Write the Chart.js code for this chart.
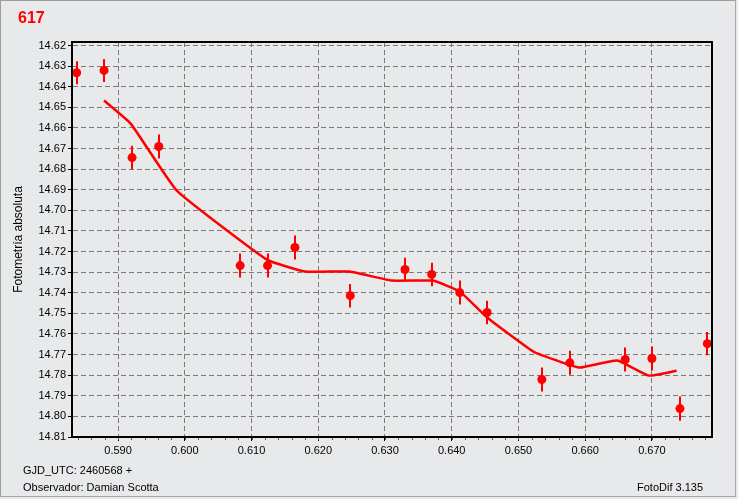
<!DOCTYPE html>
<html>
<head>
<meta charset="utf-8">
<script src="https://cdn.jsdelivr.net/npm/chart.js@4"></script>
<style>
  html, body { margin: 0; padding: 0; background: #fff; }
  #wrap { position: relative; width: 738px; height: 499px; background: #e8e9eb; overflow: hidden; }
  #frame { position: absolute; left: 0; top: 0; width: 734px; height: 495px; border: 1px solid #9d9d9d; border-right-color: #a8a8a8; border-bottom-color: #a8a8a8; }
  canvas { position: absolute; left: 0; top: 0; }
  .txt { position: absolute; font-family: "Liberation Sans", Arial, sans-serif; font-size: 11px; color: #000; white-space: nowrap; }
  #title { left: 18px; top: 9px; font-size: 16px; font-weight: bold; color: #ff0000; }
</style>
</head>
<body>
<div id="wrap">
  <div id="frame"></div>
  <canvas id="myChart" width="738" height="499"></canvas>
  <div id="title" class="txt">617</div>
  <div class="txt" style="left:23px; top:464px;">GJD_UTC: 2460568 +</div>
  <div class="txt" style="left:23px; top:481px;">Observador: Damian Scotta</div>
  <div class="txt" style="left:637px; top:481px;">FotoDif 3.135</div>
</div>
<script>
// mediciones (GJD - 2460568)
var tiempos = [0.5838, 0.5879, 0.5921, 0.5961, 0.6083, 0.6124, 0.6165, 0.6248, 0.6330,
               0.6370, 0.6412, 0.6453, 0.6535, 0.6577, 0.6660, 0.6700, 0.6742, 0.6783];
var magnitudes = [14.6332, 14.6321, 14.6744, 14.6690, 14.7268, 14.7268, 14.7180, 14.7414, 14.7287,
                  14.7311, 14.7399, 14.7496, 14.7821, 14.7740, 14.7724, 14.7719, 14.7962, 14.7647];
var errores = [0.0056, 0.0056, 0.0058, 0.0058, 0.0058, 0.0058, 0.0058, 0.0057, 0.0057,
               0.0057, 0.0058, 0.0057, 0.0058, 0.0058, 0.0058, 0.0058, 0.0059, 0.0056];

// curva de ajuste
var ajusteX = [0.5879, 0.5919, 0.5988, 0.6123, 0.6180, 0.6247, 0.6310, 0.6372, 0.6412,
               0.6453, 0.6522, 0.6562, 0.6592, 0.6648, 0.6695, 0.6737];
var ajusteY = [14.6467, 14.6579, 14.6904, 14.7239, 14.7297, 14.7297, 14.7341, 14.7341, 14.7394,
               14.7520, 14.7685, 14.7734, 14.7763, 14.7729, 14.7802, 14.7778];

var ejeX = { min: 0.5831, max: 0.6790, paso: 0.01, pasoMenor: 0.002 };
var ejeY = { min: 14.6183, max: 14.81, paso: 0.01 };

var puntos = tiempos.map(function(t, i){ return {x: t, y: magnitudes[i]}; });
var curva = ajusteX.map(function(t, i){ return {x: t, y: ajusteY[i]}; });

// barras de error y marco del grafico
var extras = {
    id: 'extras',
    beforeDatasetsDraw: function(chart){
        var ctx = chart.ctx, sx = chart.scales.x, sy = chart.scales.y;
        ctx.save();
        ctx.strokeStyle = '#ff0000';
        ctx.lineWidth = 2;
        for (var i = 0; i < tiempos.length; i++) {
            var px = Math.round(sx.getPixelForValue(tiempos[i]));
            ctx.beginPath();
            ctx.moveTo(px, sy.getPixelForValue(magnitudes[i] - errores[i]));
            ctx.lineTo(px, sy.getPixelForValue(magnitudes[i] + errores[i]));
            ctx.stroke();
        }
        ctx.restore();
    },
    afterDraw: function(chart){
        var ctx = chart.ctx, a = chart.chartArea, sx = chart.scales.x;
        ctx.save();
        ctx.strokeStyle = '#000';
        ctx.lineWidth = 2;
        ctx.strokeRect(a.left, a.top, a.right - a.left, a.bottom - a.top);
        // marcas menores del eje X
        ctx.lineWidth = 1;
        ctx.strokeStyle = '#555';
        ctx.beginPath();
        var k0 = Math.ceil(ejeX.min / ejeX.pasoMenor), k1 = Math.floor(ejeX.max / ejeX.pasoMenor);
        for (var k = k0; k <= k1; k++) {
            var px = Math.round(sx.getPixelForValue(k * ejeX.pasoMenor)) + 0.5;
            ctx.moveTo(px, a.bottom + 1);
            ctx.lineTo(px, a.bottom + 3);
        }
        ctx.stroke();
        ctx.restore();
    }
};

var fuente = { family: '"Liberation Sans", Arial, sans-serif', size: 11 };

var chartData = {
    type: 'scatter',
    data: {
        datasets: [{
            label: 'ajuste',
            type: 'line',
            data: curva,
            borderColor: '#ff0000',
            borderWidth: 2.5,
            pointRadius: 0,
            tension: 0.12,
            fill: false
        }, {
            label: 'mediciones',
            data: puntos,
            backgroundColor: '#ff0000',
            borderColor: '#ff0000',
            pointRadius: 4.5,
            pointHoverRadius: 4.5,
            borderWidth: 0
        }]
    },
    options: {
        responsive: false,
        animation: false,
        layout: { padding: { top: 42, right: 26, bottom: 0, left: 0 } },
        plugins: { legend: { display: false }, tooltip: { enabled: false } },
        scales: {
            x: {
                type: 'linear',
                min: ejeX.min,
                max: ejeX.max,
                afterFit: function(scale){ scale.height = 62; },
                ticks: {
                    stepSize: ejeX.paso,
                    includeBounds: false,
                    padding: 3,
                    color: '#000',
                    font: fuente,
                    maxRotation: 0,
                    callback: function(v){ return v.toFixed(3); }
                },
                grid: { color: '#7a7a7a', lineWidth: 1, tickLength: 4, tickColor: '#000' },
                border: { display: true, color: '#000', width: 2, dash: [5, 3] }
            },
            y: {
                type: 'linear',
                reverse: true,
                min: ejeY.min,
                max: ejeY.max,
                afterFit: function(scale){ scale.width = 72; },
                title: { display: true, text: 'Fotometría absoluta', color: '#000', font: { family: fuente.family, size: 12 }, padding: { top: 11, bottom: 0 } },
                ticks: {
                    stepSize: ejeY.paso,
                    includeBounds: false,
                    padding: 2,
                    color: '#000',
                    font: fuente,
                    callback: function(v){ return v.toFixed(2); }
                },
                grid: { color: '#7a7a7a', lineWidth: 1, tickLength: 4, tickColor: '#000' },
                border: { display: true, color: '#000', width: 2, dash: [5, 3] }
            }
        }
    },
    plugins: [extras]
};

var chartArea = document.getElementById('myChart').getContext('2d');
var myChart = new Chart(chartArea, chartData);
</script>
</body>
</html>
